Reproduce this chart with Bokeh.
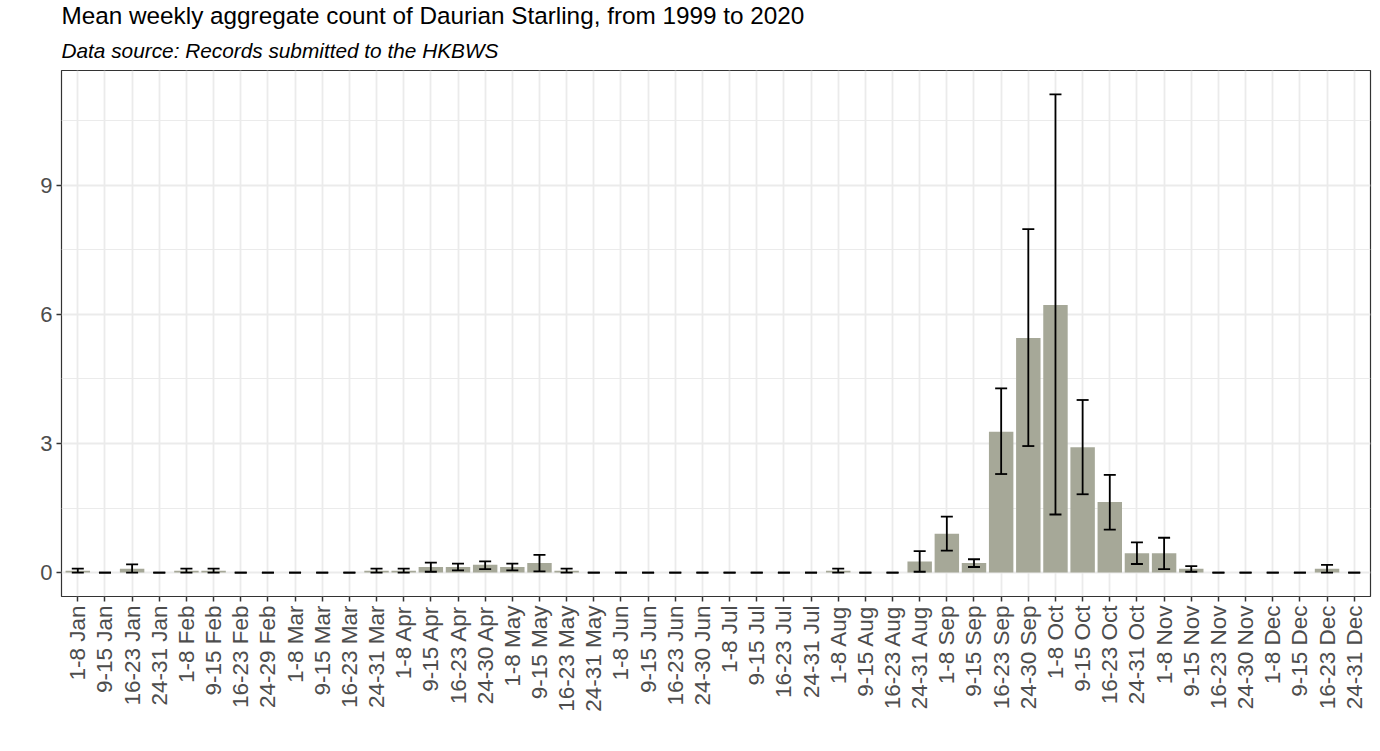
import math
from bokeh.plotting import figure
from bokeh.models import (ColumnDataSource, FactorRange, Range1d, FixedTicker,
                          Whisker, TeeHead, Title)
from bokeh.embed import file_html
from bokeh.resources import INLINE

months = ["Jan", "Feb", "Mar", "Apr", "May", "Jun",
          "Jul", "Aug", "Sep", "Oct", "Nov", "Dec"]
last_week = ["24-31", "24-29", "24-31", "24-30", "24-31", "24-30",
             "24-31", "24-31", "24-30", "24-31", "24-30", "24-31"]
categories = []
for m, lw in zip(months, last_week):
    for w in ["1-8", "9-15", "16-23", lw]:
        categories.append(f"{w} {m}")

mean_count = [0.04, 0.00, 0.09, 0.00,
              0.045, 0.045, 0.00, 0.00,
              0.00, 0.00, 0.00, 0.04,
              0.04, 0.13, 0.13, 0.18,
              0.13, 0.22, 0.04, 0.00,
              0.00, 0.00, 0.00, 0.00,
              0.00, 0.00, 0.00, 0.00,
              0.045, 0.00, 0.00, 0.26,
              0.90, 0.22, 3.27, 5.45,
              6.22, 2.91, 1.64, 0.45,
              0.45, 0.09, 0.00, 0.00,
              0.00, 0.00, 0.09, 0.00]
lower_ci = [0.00, 0.00, 0.00, 0.00,
            0.00, 0.00, 0.00, 0.00,
            0.00, 0.00, 0.00, 0.00,
            0.00, 0.02, 0.05, 0.08,
            0.05, 0.03, 0.00, 0.00,
            0.00, 0.00, 0.00, 0.00,
            0.00, 0.00, 0.00, 0.00,
            0.00, 0.00, 0.00, 0.02,
            0.51, 0.13, 2.29, 2.94,
            1.35, 1.82, 1.00, 0.20,
            0.08, 0.02, 0.00, 0.00,
            0.00, 0.00, 0.00, 0.00]
upper_ci = [0.09, 0.00, 0.19, 0.00,
            0.09, 0.09, 0.00, 0.00,
            0.00, 0.00, 0.00, 0.09,
            0.09, 0.23, 0.21, 0.26,
            0.21, 0.41, 0.09, 0.00,
            0.00, 0.00, 0.00, 0.00,
            0.00, 0.00, 0.00, 0.00,
            0.09, 0.00, 0.00, 0.50,
            1.30, 0.31, 4.28, 7.98,
            11.11, 4.01, 2.27, 0.70,
            0.81, 0.15, 0.00, 0.00,
            0.00, 0.00, 0.18, 0.00]
y_ticks = [0, 3, 6, 9]
y_minor = [1.5, 4.5, 7.5, 10.5]

title_text = "Mean weekly aggregate count of Daurian Starling, from 1999 to 2020"
subtitle_text = "Data source: Records submitted to the HKBWS"

FONT = "Liberation Sans"

src = ColumnDataSource(dict(cat=categories, mean=mean_count,
                            lower=lower_ci, upper=upper_ci))

ymax = max(upper_ci)
pad = 0.05 * ymax

p = figure(x_range=FactorRange(factors=categories, range_padding=0.1,
                               range_padding_units="absolute"),
           y_range=Range1d(-pad, ymax + pad),
           frame_width=1309, frame_height=526,
           min_border_left=61, min_border_right=2, min_border_top=0,
           min_border_bottom=10,
           output_backend="svg", toolbar_location=None,
           background_fill_color="white", border_fill_color="white")
p.title = None

p.vbar(x="cat", top="mean", width=0.9, source=src,
       fill_color="#A6A898", line_color=None)

wh = Whisker(base="cat", lower="lower", upper="upper", source=src,
             line_color="black", line_width=1.8, level="overlay",
             lower_head=TeeHead(size=12, line_color="black", line_width=1.8),
             upper_head=TeeHead(size=12, line_color="black", line_width=1.8))
p.add_layout(wh)

p.outline_line_color = "#333333"
p.outline_line_width = 1.2

# grids
p.xgrid.grid_line_color = "#EBEBEB"
p.xgrid.grid_line_width = 1.8
p.ygrid.grid_line_color = "#EBEBEB"
p.ygrid.grid_line_width = 1.8
p.ygrid.minor_grid_line_color = "#EBEBEB"
p.ygrid.minor_grid_line_width = 1.0
p.yaxis.ticker = FixedTicker(ticks=y_ticks, minor_ticks=y_minor)

for ax in (p.xaxis[0], p.yaxis[0]):
    ax.axis_line_color = None
    ax.major_tick_line_color = "#333333"
    ax.major_tick_line_width = 1.5
    ax.major_tick_out = 5
    ax.major_tick_in = 0
    ax.minor_tick_line_color = None
    ax.major_label_text_font = FONT
    ax.major_label_text_color = "#4D4D4D"
    ax.major_label_standoff = 4

p.yaxis.major_label_text_font_size = "22px"
p.xaxis.major_label_text_font_size = "22.5px"
p.xaxis.major_label_orientation = math.pi / 2

p.add_layout(Title(text=subtitle_text, align="left", text_font=FONT,
                   text_font_size="20.8px", text_font_style="italic",
                   text_color="black", standoff=17), "above")
p.add_layout(Title(text=title_text, align="left", text_font=FONT,
                   text_font_size="24.3px", text_font_style="normal",
                   text_color="black", standoff=-1), "above")

open("out.html", "w").write(file_html(p, INLINE))
